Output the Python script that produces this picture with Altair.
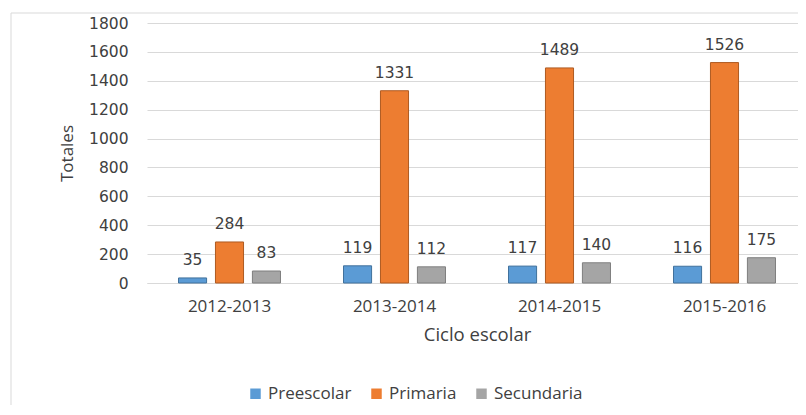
import altair as alt
import pandas as pd

ciclos = ["2012-2013", "2013-2014", "2014-2015", "2015-2016"]
series = ["Preescolar", "Primaria", "Secundaria"]
preescolar = [35, 119, 117, 116]
primaria = [284, 1331, 1489, 1526]
secundaria = [83, 112, 140, 175]
y_ticks = [0, 200, 400, 600, 800, 1000, 1200, 1400, 1600, 1800]

fill_colors = ["#5B9BD5", "#ED7D31", "#A5A5A5"]
stroke_colors = ["#41719C", "#AE5A21", "#7F7F7F"]

rows = []
for name, vals in zip(series, [preescolar, primaria, secundaria]):
    for c, v in zip(ciclos, vals):
        rows.append({"Ciclo": c, "Serie": name, "Total": v})
df = pd.DataFrame(rows)

x_axis = alt.Axis(
    title="Ciclo escolar",
    labelFont="Open Sans",
    labelFontSize=17,
    labelColor="#404040",
    labelBaseline="alphabetic",
    labelPadding=28,
    ticks=False,
    tickSize=0,
    domain=True,
    domainColor="#d9d9d9",
    domainWidth=1,
    grid=False,
    titleFont="Open Sans",
    titleFontSize=18.5,
    titleFontWeight="normal",
    titleColor="#404040",
    titleX=330,
    titleY=57,
    titleBaseline="alphabetic",
    labelAngle=0,
)
y_axis = alt.Axis(
    title="Totales",
    values=y_ticks,
    format="d",
    labelOverlap=False,
    labelFont="DejaVu Sans",
    labelFontSize=15.5,
    labelColor="#404040",
    labelPadding=19,
    ticks=False,
    tickSize=0,
    domain=False,
    grid=True,
    gridColor="#d9d9d9",
    gridWidth=1,
    titleFont="Open Sans",
    titleFontSize=17,
    titleFontWeight="normal",
    titleColor="#404040",
    titleX=-80,
    titleY=130,
    titleAngle=270,
    titleAlign="center",
    titleBaseline="middle",
)
x_scale = alt.Scale(range=[0, 660], paddingInner=0.382, paddingOuter=0.191)
xoff_scale = alt.Scale(paddingInner=0.24, paddingOuter=0)
y_scale = alt.Scale(domain=[0, 1800], nice=False)

x_enc = alt.X("Ciclo:N", sort=ciclos, scale=x_scale, axis=x_axis)
xoff_enc = alt.XOffset("Serie:N", sort=series, scale=xoff_scale)
y_enc = alt.Y("Total:Q", scale=y_scale, axis=y_axis)

bars = alt.Chart(df).mark_bar(strokeWidth=1).encode(
    x=x_enc,
    xOffset=xoff_enc,
    y=y_enc,
    color=alt.Color(
        "Serie:N",
        sort=series,
        scale=alt.Scale(domain=series, range=fill_colors),
        legend=alt.Legend(
            title=None,
            orient="none",
            direction="horizontal",
            legendX=100,
            legendY=362,
            symbolType="square",
            symbolSize=110,
            symbolStrokeWidth=0,
            labelFont="Open Sans",
            labelFontSize=17,
            labelColor="#404040",
            labelOffset=4,
            columnPadding=16,
            padding=0,
        ),
    ),
    stroke=alt.Stroke(
        "Serie:N",
        sort=series,
        scale=alt.Scale(domain=series, range=stroke_colors),
        legend=None,
    ),
)

labels = alt.Chart(df).mark_text(
    font="DejaVu Sans",
    fontSize=15.5,
    color="#404040",
    align="center",
    baseline="alphabetic",
    dy=-13,
).encode(
    x=x_enc,
    xOffset=xoff_enc,
    y=y_enc,
    text=alt.Text("Total:Q"),
)

border_data = alt.Data(values=[{"k": 1}])
left_border = alt.Chart(border_data).mark_rule(color="#d9d9d9", strokeWidth=1).encode(
    x=alt.value(-136), y=alt.value(-10), y2=alt.value(400)
)
top_border = alt.Chart(border_data).mark_rule(color="#d9d9d9", strokeWidth=1).encode(
    x=alt.value(-136), x2=alt.value(700), y=alt.value(-10)
)

chart = alt.layer(bars, labels, left_border, top_border).properties(
    width=651,
    height=260,
    autosize=alt.AutoSizeParams(type="none"),
    padding={"left": 139, "top": 15, "right": 0, "bottom": 122},
).configure_view(stroke=None)

chart.save("out.html", embed_options={"renderer": "svg", "actions": False})
